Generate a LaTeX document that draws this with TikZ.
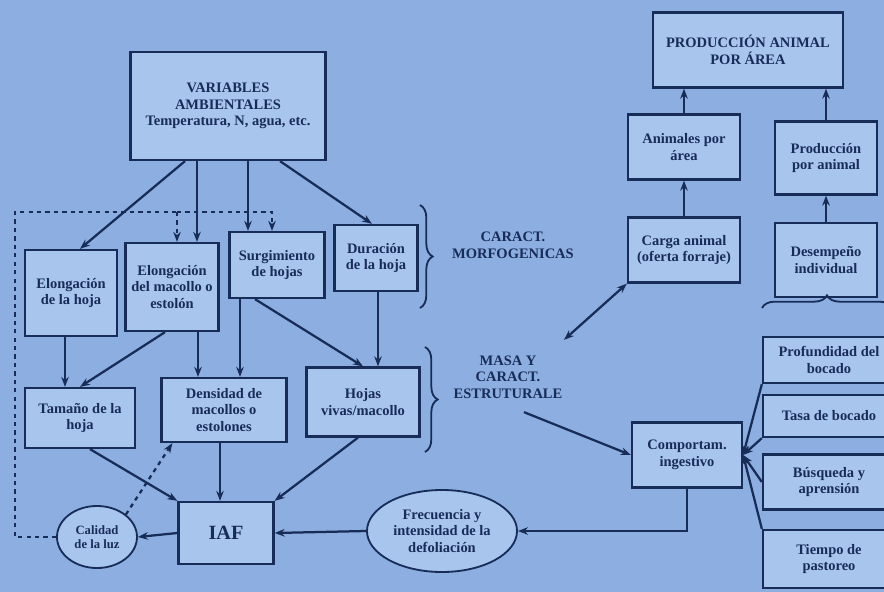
\documentclass[tikz,border=0pt]{standalone}
\usepackage{fontspec}
\setmainfont{Liberation Serif}
\usepackage{tikz}
\usetikzlibrary{arrows.meta,shapes.geometric,decorations.pathreplacing}

\definecolor{colfondo}{RGB}{140,174,224}
\definecolor{colcaja}{RGB}{168,197,238}
\definecolor{coltrazo}{RGB}{24,44,88}

\begin{document}
\begin{tikzpicture}[
    x=0.025cm, y=-0.025cm,
    every node/.style = {
      text=coltrazo,
      font=\fontsize{10.3}{11.8}\selectfont\bfseries,
      align=center,
      inner sep=1pt
    },
    caja/.style = {
      shape=rectangle,
      draw=coltrazo,
      fill=colcaja,
      line width=1.6pt
    },
    elipse/.style = {
      shape=ellipse,
      draw=coltrazo,
      fill=colcaja,
      line width=1.3pt
    },
    arrow/.style = {
      draw=coltrazo,
      line width=1.6pt,
      -{Stealth[length=0.25cm]}
    },
    doble/.style = {
      draw=coltrazo,
      line width=1.6pt,
      {Stealth[length=0.25cm]}-{Stealth[length=0.25cm]}
    },
    punteada/.style = {
      draw=coltrazo,
      line width=1.6pt,
      dashed
    },
    llave/.style = {
      draw=coltrazo,
      line width=1.3pt,
      decorate,
      decoration={brace,amplitude=9pt}
    }
  ]

    % Fondo
    \clip (0,0) rectangle (884,592);
    \fill[colfondo] (0,0) rectangle (884,592);

    % Variables ambientales
    \node[caja, minimum width=4.875cm, minimum height=2.7cm] (vars) at (228,106)
      {VARIABLES\\AMBIENTALES\\Temperatura, N, agua, etc.};

    % Caracteristicas morfogenicas
    \node[caja, minimum width=2.3cm, minimum height=2.15cm] (elonghoja) at (71,293) {Elongación\\de la hoja};
    \node[caja, minimum width=2.325cm, minimum height=2.2cm] (macollo) at (172,287) {Elongación\\del macollo o\\estolón};
    \node[caja, minimum width=2.375cm, minimum height=1.65cm] (surgimiento) at (277,265) {Surgimiento\\de hojas};
    \node[caja, minimum width=2.075cm, minimum height=1.65cm] (duracion) at (376,258) {Duración\\de la hoja};

    % Caracteristicas estructurales
    \node[caja, minimum width=2.75cm, minimum height=1.5cm] (tamano) at (80,418) {Tamaño de la\\hoja};
    \node[caja, minimum width=3.125cm, minimum height=1.6cm] (densidad) at (224,410) {Densidad de\\macollos o\\estolones};
    \node[caja, minimum width=2.825cm, minimum height=1.725cm] (hojas) at (363,402) {Hojas\\vivas/macollo};

    % IAF, luz y defoliacion
    \node[caja, minimum width=2.375cm, minimum height=1.55cm, font=\Large\bfseries] (iaf) at (226,533) {IAF};
    \node[elipse, minimum width=2.0cm, minimum height=1.55cm, font=\fontsize{9}{10}\selectfont\bfseries] (calidad) at (97,537) {Calidad\\de la luz};
    \node[elipse, minimum width=3.75cm, minimum height=2.05cm] (frecuencia) at (442,531) {Frecuencia y\\intensidad de la\\defoliación};

    % Rotulos de las llaves
    \node (morfo) at (513,245) {CARACT.\\MORFOGENICAS};
    \node (masa) at (508,377) {MASA Y\\CARACT.\\ESTRUTURALE};

    % Produccion animal
    \node[caja, minimum width=4.75cm, minimum height=1.875cm] (produccion) at (748,50) {PRODUCCIÓN ANIMAL\\POR ÁREA};
    \node[caja, minimum width=2.8cm, minimum height=1.625cm] (animales) at (684,147) {Animales por\\área};
    \node[caja, minimum width=2.55cm, minimum height=1.825cm] (poranimal) at (826,158) {Producción\\por animal};
    \node[caja, minimum width=2.8cm, minimum height=1.625cm] (carga) at (684,250) {Carga animal\\(oferta forraje)};
    \node[caja, minimum width=2.55cm, minimum height=1.85cm] (desempeno) at (826,260) {Desempeño\\individual};

    % Comportamiento ingestivo
    \node[caja, minimum width=2.75cm, minimum height=1.625cm] (comportam) at (687,455) {Comportam.\\ingestivo};
    \node[caja, minimum width=3.3cm, minimum height=1.15cm] (profundidad) at (829,360) {Profundidad del\\bocado};
    \node[caja, minimum width=3.3cm, minimum height=1.05cm] (tasa) at (829,416) {Tasa de bocado};
    \node[caja, minimum width=3.3cm, minimum height=1.375cm] (busqueda) at (829,482) {Búsqueda y\\aprensión};
    \node[caja, minimum width=3.3cm, minimum height=1.45cm] (tiempo) at (829,559) {Tiempo de\\pastoreo};

    % Esquinas de la linea punteada
    \coordinate (dashA) at (15,212);
    \coordinate (dashB) at (177,212);
    \coordinate (dashC) at (272,212);

    % Flechas desde variables ambientales
    \draw[arrow] ([xshift=-1.075cm]vars.south) -- ([xshift=0.225cm]elonghoja.north);
    \draw[arrow] ([xshift=-0.775cm]vars.south) -- ([xshift=-0.775cm]vars.south |- macollo.north);
    \draw[arrow] ([xshift=0.5cm]vars.south) -- ([xshift=0.5cm]vars.south |- surgimiento.north);
    \draw[arrow] ([xshift=1.3cm]vars.south) -- ([xshift=-0.1cm]duracion.north);

    % Punteadas desde calidad de la luz
    \draw[punteada] (calidad.west) -| (dashA) -- (dashB);
    \draw[punteada, -{Stealth[length=0.25cm]}] (dashB) -- (dashB |- macollo.north);
    \draw[punteada, -{Stealth[length=0.25cm]}] (dashB) -- (dashC) -- (dashC |- surgimiento.north);
    \draw[punteada, -{Stealth[length=0.25cm]}] (calidad.north east) -- ([xshift=0.3cm]densidad.south west);

    % Morfogenicas a estructurales
    \draw[arrow] ([xshift=-0.15cm]elonghoja.south) -- ([xshift=-0.15cm]elonghoja.south |- tamano.north);
    \draw[arrow] ([xshift=-0.175cm]macollo.south) -- (tamano.north);
    \draw[arrow] ([xshift=0.65cm]macollo.south) -- ([xshift=0.65cm]macollo.south |- densidad.north);
    \draw[arrow] ([xshift=-0.925cm]surgimiento.south) -- ([xshift=-0.925cm]surgimiento.south |- densidad.north);
    \draw[arrow] ([xshift=-0.55cm]surgimiento.south) -- (hojas.north);
    \draw[arrow] ([xshift=0.05cm]duracion.south) -- ([xshift=0.05cm]duracion.south |- hojas.north);

    % Estructurales al IAF
    \draw[arrow] ([xshift=0.25cm]tamano.south) -- (iaf.north west);
    \draw[arrow] ([xshift=-0.1cm]densidad.south) -- ([xshift=-0.1cm]densidad.south |- iaf.north);
    \draw[arrow] ([xshift=-0.125cm]hojas.south) -- (iaf.north east);
    \draw[arrow] (iaf.west) -- (calidad.east);
    \draw[arrow] (frecuencia.west) -- (iaf.east);

    % Comportamiento ingestivo
    \draw[arrow] (comportam.south) |- (frecuencia.east);
    \draw[arrow] ([shift={(0.4cm,-0.3cm)}]masa.south) -- (comportam.west);
    \draw[arrow] (profundidad.south west) -- (comportam.east);
    \draw[arrow] (tasa.south west) -- (comportam.east);
    \draw[arrow] (busqueda.west) -- (comportam.east);
    \draw[arrow] (tiempo.north west) -- (comportam.east);

    % Produccion animal
    \draw[doble] ([yshift=0.35cm]masa.north east) -- (carga.south west);
    \draw[arrow] (carga.north) -- (animales.south);
    \draw[arrow] (animales.north) -- (animales.north |- produccion.south);
    \draw[arrow] (desempeno.north) -- (poranimal.south);
    \draw[arrow] (poranimal.north) -- (poranimal.north |- produccion.south);

    % Llaves
    \draw[llave] (420,205) -- (420,308);
    \draw[llave] (425,347) -- (425,452);
    \draw[llave] (762,308) -- (892,308);

  \end{tikzpicture}
\end{document}
